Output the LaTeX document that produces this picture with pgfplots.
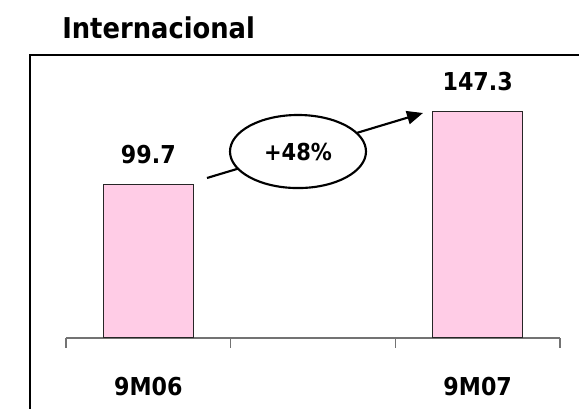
\documentclass[border=0pt]{standalone}
\usepackage{pgfplots}
\pgfplotsset{compat=1.18}
\usepackage{fontspec}
\setmainfont{DejaVu Sans Condensed}
\usetikzlibrary{arrows.meta}
\definecolor{barpink}{RGB}{255,204,230}
\begin{document}
\begin{tikzpicture}
\begin{axis}[
  at={(49.5pt,53.25pt)}, anchor=south west,
  scale only axis, width=370.5pt, height=172.7pt,
  xmin=-0.5, xmax=2.5, ymin=0, ymax=150,
  enlargelimits=false, clip=false,
  axis x line*=bottom, hide y axis,
  axis line style={draw=black!55, line width=0.8pt},
  ybar, bar width=67.5pt,
  xtick={0,2}, xticklabels={9M06,9M07},
  major tick length=0pt,
  xticklabel style={anchor=base, yshift=-43.5pt, font=\fontsize{18.5}{20}\selectfont\bfseries},
  extra x ticks={-0.5,0.5,1.5,2.5}, extra x tick labels={},
  extra x tick style={tick align=outside, major tick length=7.5pt, tick style={draw=black!55, line width=0.8pt}},
  nodes near coords={\pgfmathprintnumber[fixed,precision=1,fixed zerofill,assume math mode=true]{\pgfplotspointmeta}},
  every node near coord/.append style={anchor=base, yshift=15.75pt, inner sep=0pt, font=\fontsize{18.5}{20}\selectfont\bfseries},
]
\addplot[fill=barpink, draw=black!85, line width=0.75pt] coordinates {(0,99.7) (2,147.3)};
\end{axis}
% frame
\draw[line width=2pt, black] (22.5pt,-5pt) -- (22.5pt,265.5pt) -- (440pt,265.5pt);
% title
\node[anchor=base west, inner sep=0pt, font=\fontsize{21.5}{24}\selectfont\bfseries] at (46.5pt,277.5pt) {Internacional};
% growth arrow
\draw[line width=1.6pt, -{Triangle[length=12pt,width=10pt]}] (155.25pt,173.25pt) -- (317.25pt,222pt);
\draw[line width=1.6pt, fill=white] (223.5pt,193.1pt) ellipse [x radius=51pt, y radius=27.4pt];
\node[font=\fontsize{17.5}{20}\selectfont\bfseries, inner sep=0pt] at (223.5pt,192.75pt) {+48\%};
\pgfresetboundingbox
\path[use as bounding box] (0,0) rectangle (434.25pt,306.75pt);
\end{tikzpicture}
\end{document}
